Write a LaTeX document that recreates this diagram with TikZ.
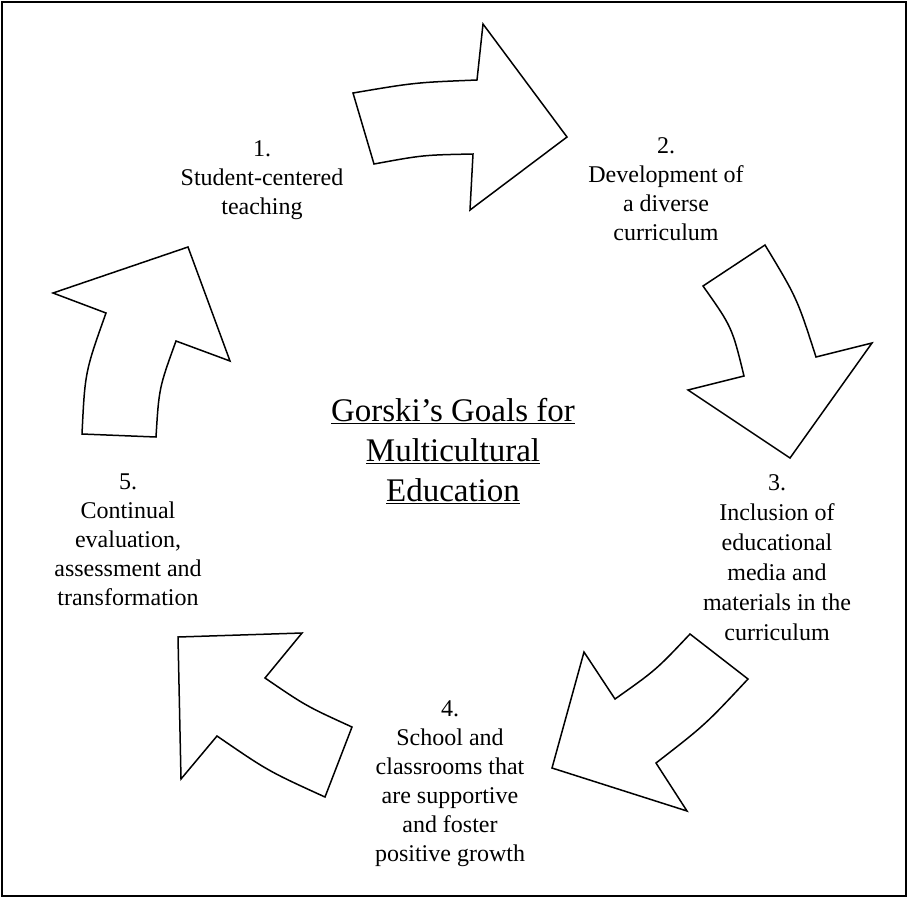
\documentclass[tikz,border=0pt]{standalone}
\usepackage{fontspec}
\setmainfont{Liberation Serif}
\usepackage{tikz}

\begin{document}
\begin{tikzpicture}[x=1pt, y=-1pt]
  \tikzstyle{goal}=[align=center, font=\fontsize{24}{29}\selectfont]
  \tikzstyle{bigarrow}=[draw, line width=1.5pt, line join=miter, fill=white]
  \useasboundingbox (0,0) rectangle (908,898);
  \draw[line width=1.6pt] (2,2) rectangle (906,896);
  % the five curved arrows
  \path[bigarrow] (353,93) .. controls (415,82.5) .. (477,80) -- (483,24) -- (567,137)
    -- (470,210) -- (473,154) .. controls (423,155) .. (374,164) -- cycle;
  \path[bigarrow] (703,286) -- (765,245) .. controls (797,298) .. (816,357) -- (872,343)
    -- (790,458) -- (688,390) -- (744,376) .. controls (732,327) .. cycle;
  \path[bigarrow] (690,634) -- (748,679) .. controls (705,725) .. (656,763) -- (687,811)
    -- (552,768) -- (584,652) -- (615,699) .. controls (656,670) .. cycle;
  \path[bigarrow] (178,637) -- (302,633) -- (265,678) .. controls (306,706) .. (352,727)
    -- (325,797) .. controls (268,771) .. (217,736) -- (181,779) -- cycle;
  \path[bigarrow] (53,293) -- (188,247) -- (230,361) -- (176,341) .. controls (159,388) .. (156,437)
    -- (82,434) .. controls (85,372) .. (106,313) -- cycle;
  % labels
  \node[align=center, font=\fontsize{33}{40}\selectfont] (title) at (453,451)
    {\underline{Gorski's Goals for}\\ \underline{Multicultural}\\ \underline{Education}};
  \node[goal] (g1) at (262,180) {1.\\ Student-centered\\ teaching};
  \node[goal] (g2) at (666,189) {2.\\ Development of\\ a diverse\\ curriculum};
  \node[goal, font=\fontsize{24}{30}\selectfont] (g3) at (777,558) {3.\\ Inclusion of\\ educational\\ media and\\ materials in the\\ curriculum};
  \node[goal] (g4) at (450,784) {4.\\ School and\\ classrooms that\\ are supportive\\ and foster\\ positive growth};
  \node[goal] (g5) at (128,540) {5.\\ Continual\\ evaluation,\\ assessment and\\ transformation};
\end{tikzpicture}
\end{document}
